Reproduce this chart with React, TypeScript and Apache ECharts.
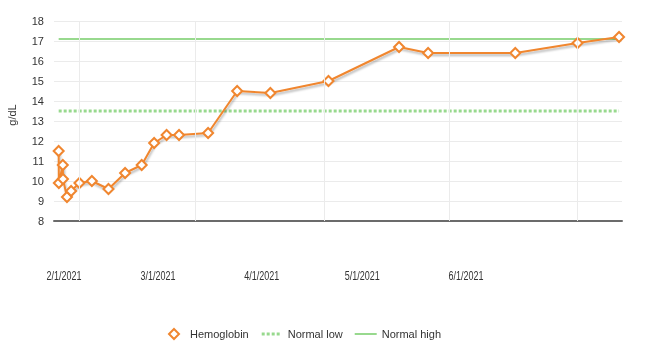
import React, { useEffect, useRef } from 'react';
import * as echarts from 'echarts';

// ---- data ----
const hgbDates: string[] = [
  '2021-01-27T00:00:00', '2021-01-27T01:00:00', '2021-01-28T00:00:00', '2021-01-28T01:00:00',
  '2021-01-29T00:00:00', '2021-01-30T00:00:00', '2021-02-01T00:00:00', '2021-02-04T00:00:00',
  '2021-02-08T00:00:00', '2021-02-12T00:00:00', '2021-02-16T00:00:00', '2021-02-19T00:00:00',
  '2021-02-22T00:00:00', '2021-02-25T00:00:00', '2021-03-04T00:00:00', '2021-03-11T00:00:00',
  '2021-03-19T00:00:00', '2021-04-02T00:00:00', '2021-04-19T00:00:00', '2021-04-26T00:00:00',
  '2021-05-17T00:00:00', '2021-06-01T00:00:00', '2021-06-11T00:00:00',
];
const hgbValues: number[] = [
  11.5, 9.9, 10.8, 10.1, 9.2, 9.5, 9.9, 10.0, 9.6, 10.4, 10.8, 11.9,
  12.3, 12.3, 12.4, 14.5, 14.4, 15.0, 16.7, 16.4, 16.4, 16.9, 17.2,
];
const normalLowValue = 13.5;
const normalHighValue = 17.1;
const monthTicks: string[] = ['2021-02-01T00:00:00', '2021-03-01T00:00:00', '2021-04-01T00:00:00', '2021-05-01T00:00:00', '2021-06-01T00:00:00'];
const monthLabels: string[] = ['2/1/2021', '3/1/2021', '4/1/2021', '5/1/2021', '6/1/2021'];
const xMin = '2021-01-25T21:00:00';
const xMax = '2021-06-11T17:00:00';
const yMin = 8;
const yMax = 18;
const yInterval = 1;
const seriesNames = ['Hemoglobin', 'Normal low', 'Normal high'];

const ORANGE = '#f0862f';
const GREEN = '#98d98e';
const FONT = '"Liberation Sans", Arial, sans-serif';

const t = (s: string) => new Date(s).getTime();

export default function App() {
  const ref = useRef<HTMLDivElement>(null);
  useEffect(() => {
    if (!ref.current) return;
    const chart = echarts.init(ref.current, undefined, { renderer: 'svg' });
    const first = t(hgbDates[0]);
    const last = t(hgbDates[hgbDates.length - 1]);
    chart.setOption({
      animation: false,
      textStyle: { fontFamily: FONT },
      grid: { left: 54, right: 24, top: 21, height: 200, containLabel: false, outerBoundsMode: 'none' },
      xAxis: {
        type: 'time',
        min: t(xMin),
        max: t(xMax),
        axisLine: { show: true, lineStyle: { color: '#6b6b6b', width: 2 } },
        axisTick: { show: false },
        axisLabel: { show: false },
        splitLine: { show: false },
      },
      yAxis: {
        type: 'value',
        min: yMin,
        max: yMax,
        interval: yInterval,
        name: 'g/dL',
        nameLocation: 'middle',
        nameGap: 37,
        nameTextStyle: { fontSize: 11, color: '#333', fontFamily: FONT, padding: [0, 0, 0, 12] },
        axisLine: { show: false },
        axisTick: { show: false },
        axisLabel: { fontSize: 11, color: '#333', margin: 10, fontFamily: FONT },
        splitLine: { lineStyle: { color: '#ebebeb', width: 1 } },
      },
      legend: {
        bottom: 11,
        left: 163,
        itemWidth: 22,
        itemHeight: 10,
        itemGap: 12,
        textStyle: { fontSize: 11, color: '#333', fontFamily: FONT },
        data: [
          { name: seriesNames[0], icon: 'path://M5,0L10,5L5,10L0,5Z', itemStyle: { color: '#fff', borderColor: ORANGE, borderWidth: 2 } },
          { name: seriesNames[1], icon: 'path://M1,0h3v3h-3zM6,0h3v3h-3zM11,0h3v3h-3zM16,0h3v3h-3zM0,0h0.01v3h-0.01zM22,0h0.01v3h-0.01z', itemStyle: { color: GREEN, borderWidth: 0 } },
          { name: seriesNames[2], icon: 'path://M0,0h22v2h-22z', itemStyle: { color: GREEN, borderWidth: 0 } },
        ],
      },
      series: [
        {
          name: '_grid',
          type: 'line',
          data: [],
          z: 1,
          silent: true,
          markLine: {
            silent: true,
            symbol: 'none',
            label: { show: false },
            lineStyle: { color: '#ebebeb', width: 1, type: 'solid' },
            data: monthTicks.map((d) => ({ xAxis: t(d) })),
          },
        },
        {
          name: seriesNames[1],
          type: 'line',
          symbol: 'none',
          z: 2,
          color: GREEN,
          lineStyle: { color: GREEN, width: 3, type: [3, 2] },
          data: [[first, normalLowValue], [last, normalLowValue]],
        },
        {
          name: seriesNames[2],
          type: 'line',
          symbol: 'none',
          z: 2,
          color: GREEN,
          lineStyle: { color: GREEN, width: 2 },
          data: [[first, normalHighValue], [last, normalHighValue]],
        },
        {
          name: seriesNames[0],
          type: 'line',
          z: 3,
          color: ORANGE,
          symbol: 'diamond',
          symbolSize: 10,
          itemStyle: { color: '#fff', borderColor: ORANGE, borderWidth: 2 },
          lineStyle: { color: ORANGE, width: 2, shadowColor: 'rgba(0,0,0,0.3)', shadowBlur: 2, shadowOffsetX: 1, shadowOffsetY: 2 },
          data: hgbDates.map((d, i) => [t(d), hgbValues[i]]),
        },
      ],
    });
    const labels = monthTicks.map((d, i) => {
      const px = chart.convertToPixel({ xAxisIndex: 0 }, t(d)) as number;
      return {
        type: 'text',
        x: px * 0.807,
        y: 275,
        scaleX: 0.75,
        style: {
          text: monthLabels[i],
          fontSize: 12,
          fontFamily: FONT,
          fill: '#333',
          align: 'center',
          verticalAlign: 'middle',
        },
      };
    });
    chart.setOption({ graphic: labels });
    return () => chart.dispose();
  }, []);
  return <div ref={ref} style={{ position: 'fixed', left: 0, top: 0, width: 646, height: 356 }} />;
}
